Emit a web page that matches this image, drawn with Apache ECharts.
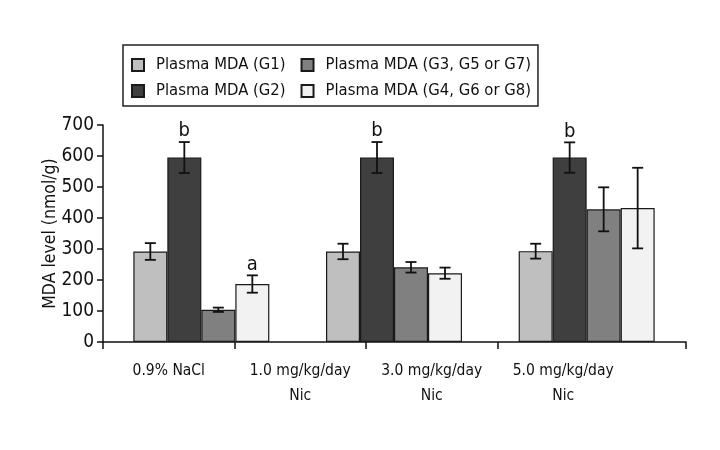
<!DOCTYPE html>
<html><head><meta charset="utf-8">
<script src="https://cdn.jsdelivr.net/npm/echarts@6/dist/echarts.min.js"></script>
<style>html,body{margin:0;padding:0;background:#fff}#c{width:720px;height:450px}</style>
</head><body><div id="c"></div>
<script>
const groupCategories = ['0.9% NaCl', '1.0 / 3.0 mg/kg/day Nic', '5.0 mg/kg/day Nic'];
const tickLabels = ['0.9% NaCl', '1.0 mg/kg/day\nNic', '3.0 mg/kg/day\nNic', '5.0 mg/kg/day\nNic'];
const seriesNames = ['Plasma MDA (G1)', 'Plasma MDA (G2)', 'Plasma MDA (G3, G5 or G7)', 'Plasma MDA (G4, G6 or G8)'];
const g1 = [292, 292, 293];
const g2 = [595, 595, 595];
const g3 = [104, 241, 428];
const g4 = [187, 222, 432];
const g1Err = [27, 25, 24];
const g2Err = [50, 50, 49];
const g3Err = [7, 17, 71];
const g4Err = [28, 18, 130];
const g2Sig = ['b', 'b', 'b'];
const g4Sig = ['a', '', ''];
const yMin = 0, yMax = 700, yStep = 100;

const FONT = "'Liberation Sans Narrow', 'DejaVu Sans Condensed', 'Roboto', sans-serif";
const colors = ['#bfbfbf', '#3f3f3f', '#808080', '#f2f2f2'];
const barW = 34;
const labelAxisMax = 583 / 131.5;

const means = [g1, g2, g3, g4];
const errs = [g1Err, g2Err, g3Err, g4Err];
const sigs = [null, g2Sig, null, g4Sig];

const series = [];
means.forEach((m, si) => {
  series.push({
    type: 'bar', name: seriesNames[si], xAxisIndex: 0, yAxisIndex: 0,
    data: m, barWidth: barW, barGap: '0%',
    itemStyle: { color: colors[si], borderColor: '#1a1a1a', borderWidth: 1.2 }
  });
});
means.forEach((m, si) => {
  const e = errs[si], sig = sigs[si];
  series.push({
    type: 'custom', name: seriesNames[si], xAxisIndex: 0, yAxisIndex: 0, z: 5,
    data: m.map((v, i) => [i, v - e[i], v + e[i]]),
    encode: { x: 0, y: [1, 2] },
    renderItem: function (params, api) {
      const c = api.value(0);
      const lo = api.coord([c, api.value(1)]);
      const hi = api.coord([c, api.value(2)]);
      const x = lo[0] + (si - 1.5) * barW;
      const cap = 5.5;
      const st = { stroke: '#111', lineWidth: 1.8 };
      const children = [
        { type: 'line', shape: { x1: x, y1: lo[1], x2: x, y2: hi[1] }, style: st },
        { type: 'line', shape: { x1: x - cap, y1: lo[1], x2: x + cap, y2: lo[1] }, style: st },
        { type: 'line', shape: { x1: x - cap, y1: hi[1], x2: x + cap, y2: hi[1] }, style: st }
      ];
      const t = sig ? sig[params.dataIndex] : '';
      if (t) {
        children.push({ type: 'text', x: x, y: hi[1] - 1,
          style: { text: t, fill: '#111', font: '20px ' + FONT, textAlign: 'center', textVerticalAlign: 'bottom' } });
      }
      return { type: 'group', children: children };
    }
  });
});

const legendCommon = {
  left: 123, orient: 'horizontal', itemGap: 15, itemWidth: 12, itemHeight: 12, icon: 'rect',
  textStyle: { fontSize: 16.5, lineHeight: 20, color: '#111', fontFamily: FONT, padding: [0, 0, 0, 7] }
};

const option = {
  animation: false,
  textStyle: { fontFamily: FONT },
  legend: [
    Object.assign({}, legendCommon, { data: [seriesNames[0], seriesNames[2]], top: 45,
      padding: [10, 7, 31, 8], borderColor: '#222', borderWidth: 1.5 }),
    Object.assign({}, legendCommon, { data: [seriesNames[1], seriesNames[3]], top: 81,
      padding: [0, 0, 0, 8] })
  ],
  grid: [
    { left: 105, width: 578, top: 125, height: 217 },
    { left: 103, width: 583, top: 125, height: 217 }
  ],
  xAxis: [
    { type: 'category', gridIndex: 0, data: groupCategories,
      axisLine: { show: false }, axisTick: { show: false }, axisLabel: { show: false } },
    { type: 'value', gridIndex: 1, min: 0, max: labelAxisMax, position: 'bottom',
      splitLine: { show: false },
      axisLine: { show: true, lineStyle: { color: '#111', width: 1.5 } },
      axisTick: { show: true, customValues: [0, 1, 2, 3, labelAxisMax], length: 7,
        lineStyle: { color: '#111', width: 1.5 } },
      axisLabel: { customValues: [0.5, 1.5, 2.5, 3.5], formatter: v => tickLabels[Math.round(v - 0.5)],
        fontSize: 15.5, lineHeight: 25, margin: 16, color: '#111', fontFamily: FONT } }
  ],
  yAxis: [
    { type: 'value', gridIndex: 0, min: yMin, max: yMax, interval: yStep, offset: 2,
      name: 'MDA level (nmol/g)', nameLocation: 'middle', nameGap: 44, nameMoveOverlap: false,
      nameTextStyle: { fontSize: 17.5, color: '#111', fontFamily: FONT },
      splitLine: { show: false },
      axisLine: { show: true, lineStyle: { color: '#111', width: 1.5 } },
      axisTick: { show: true, length: 6, lineStyle: { color: '#111', width: 1.5 } },
      axisLabel: { fontSize: 19, color: '#111', margin: 9, fontFamily: FONT } },
    { type: 'value', gridIndex: 1, show: false, min: yMin, max: yMax }
  ],
  series: series
};
echarts.init(document.getElementById('c')).setOption(option);
</script></body></html>
